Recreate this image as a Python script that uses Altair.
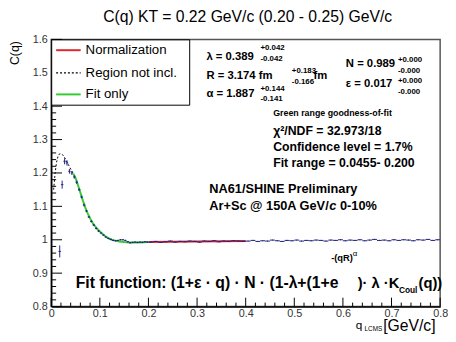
import altair as alt
import pandas as pd

FONT = "Liberation Sans"

# ---------------- data ----------------
q_low = [0.0175, 0.0225, 0.0275, 0.0325, 0.0375, 0.0425, 0.0475, 0.0525, 0.0575, 0.0625,
         0.0675, 0.0725, 0.0775, 0.0825, 0.0875, 0.0925, 0.0975, 0.1025, 0.1075, 0.1125,
         0.1175, 0.1225, 0.1275, 0.1325, 0.1375, 0.1425, 0.1475, 0.1525, 0.1575, 0.1625,
         0.1675, 0.1725, 0.1775, 0.1825, 0.1875, 0.1925, 0.1975]
c_low = [0.965, 1.165, 1.235, 1.230, 1.205, 1.200, 1.188, 1.172, 1.150, 1.128,
         1.104, 1.086, 1.068, 1.055, 1.044, 1.034, 1.026, 1.020, 1.014, 1.008,
         1.004, 1.001, 0.998, 0.997, 0.998, 1.000, 1.000, 0.998, 0.994, 0.991,
         0.992, 0.993, 0.992, 0.993, 0.992, 0.994, 0.993]
e_low = [0.018, 0.012, 0.009, 0.008, 0.007, 0.006, 0.005, 0.005, 0.004, 0.004,
         0.004, 0.003, 0.003, 0.003, 0.003, 0.003, 0.003, 0.002, 0.002, 0.002,
         0.002, 0.002, 0.002, 0.002, 0.002, 0.002, 0.002, 0.002, 0.002, 0.002,
         0.002, 0.002, 0.002, 0.002, 0.002, 0.002, 0.002]

q_high = [0.205, 0.215, 0.225, 0.235, 0.245, 0.255, 0.265, 0.275, 0.285, 0.295,
          0.305, 0.315, 0.325, 0.335, 0.345, 0.355, 0.365, 0.375, 0.385, 0.395,
          0.405, 0.415, 0.425, 0.435, 0.445, 0.455, 0.465, 0.475, 0.485, 0.495,
          0.505, 0.515, 0.525, 0.535, 0.545, 0.555, 0.565, 0.575, 0.585, 0.595,
          0.605, 0.615, 0.625, 0.635, 0.645, 0.655, 0.665, 0.675, 0.685, 0.695,
          0.705, 0.715, 0.725, 0.735, 0.745, 0.755, 0.765, 0.775, 0.785, 0.795]
c_high = [0.993, 0.995, 0.992, 0.994, 0.996, 0.993, 0.995, 0.994, 0.996, 0.995,
          0.993, 0.996, 0.995, 0.997, 0.994, 0.996, 0.995, 0.997, 0.996, 0.995,
          0.996, 0.998, 0.995, 0.997, 0.996, 0.999, 0.997, 0.995, 0.998, 0.997,
          0.999, 0.996, 0.998, 0.997, 0.999, 0.998, 0.996, 0.999, 0.998, 1.000,
          0.997, 0.999, 0.998, 1.000, 0.997, 0.999, 1.001, 0.998, 0.999, 0.997,
          1.000, 0.998, 1.000, 0.999, 0.997, 1.000, 0.999, 1.001, 0.998, 1.000]
e_high = [0.0015] * len(q_high)

q_excl = [0.005, 0.008, 0.011, 0.014, 0.017, 0.020, 0.023, 0.026, 0.030, 0.035, 0.040, 0.0455]
c_excl = [1.150, 1.200, 1.232, 1.250, 1.257, 1.258, 1.255, 1.250, 1.240, 1.226, 1.212, 1.198]

q_fit = [0.0455, 0.05, 0.055, 0.06, 0.065, 0.07, 0.075, 0.08, 0.085, 0.09, 0.095, 0.10,
         0.105, 0.11, 0.115, 0.12, 0.125, 0.13, 0.14, 0.15, 0.16, 0.18, 0.20]
c_fit = [1.198, 1.185, 1.164, 1.141, 1.118, 1.097, 1.079, 1.064, 1.051, 1.041, 1.032, 1.025,
         1.018, 1.012, 1.007, 1.003, 1.000, 0.998, 0.995, 0.993, 0.992, 0.992, 0.993]

q_norm = [0.20, 0.25, 0.30, 0.35, 0.40]
c_norm = [0.9930, 0.9938, 0.9946, 0.9953, 0.9960]

x_major = [0, 0.1, 0.2, 0.3, 0.4, 0.5, 0.6, 0.7, 0.8]
y_major = [0.8, 0.9, 1.0, 1.1, 1.2, 1.3, 1.4, 1.5, 1.6]
x_minor = [round(i * 0.02, 4) for i in range(41) if i % 5 != 0]
y_minor = [round(0.8 + i * 0.02, 4) for i in range(41) if i % 5 != 0]

legend_labels = ["Normalization", "Region not incl.", "Fit only"]

# ---------------- tables ----------------
hw = [0.0025] * len(q_low) + [0.005] * len(q_high)
pts = pd.DataFrame({"q": q_low + q_high, "C": c_low + c_high, "e": e_low + e_high, "hw": hw})
pts["lo"] = pts["C"] - pts["e"]
pts["hi"] = pts["C"] + pts["e"]
pts["q1"] = pts["q"] - pts["hw"]
pts["q2"] = pts["q"] + pts["hw"]

W, H = 396, 272
XS = alt.Scale(domain=[0, 0.8], nice=False, zero=False)
YS = alt.Scale(domain=[0.8, 1.6], nice=False, zero=False)
XA = alt.Axis(values=x_major, format="~g", title=None, grid=False, ticks=False, tickSize=0,
              labelPadding=1, labelFont=FONT, labelFontSize=11, labelColor="#333",
              domainColor="black", domainWidth=1.5, labelFlush=False, labelOverlap=False)
YA = alt.Axis(values=y_major, format="~g", title=None, grid=False, ticks=False, tickSize=0,
              labelPadding=4, labelFont=FONT, labelFontSize=11, labelColor="#333",
              domainColor="black", domainWidth=1.5, labelFlush=False, labelOverlap=False)

NAVY = "#23237e"
RED = "#e0262e"
GREEN = "#33cc33"

one = pd.DataFrame({"a": [0]})


def txt(s, x, y, size, bold=False, align="left", color="black", angle=0, italic=False):
    kw = dict(text=s, align=align, baseline="middle", fontSize=size, font=FONT,
              fontWeight="bold" if bold else "normal", color=color,
              fontStyle="italic" if italic else "normal")
    if angle:
        kw["angle"] = angle
    return alt.Chart(one).mark_text(**kw).encode(x=alt.value(x), y=alt.value(y))


layers = []

# inward ticks
ymaj = pd.DataFrame({"v": y_major})
ymin = pd.DataFrame({"v": y_minor})
xmaj = pd.DataFrame({"v": x_major})
xmin = pd.DataFrame({"v": x_minor})
layers.append(alt.Chart(ymaj).mark_rule(color="black", strokeWidth=1).encode(
    y=alt.Y("v:Q", scale=YS, axis=YA), x=alt.value(0), x2=alt.value(11)))
layers.append(alt.Chart(ymin).mark_rule(color="black", strokeWidth=1).encode(
    y=alt.Y("v:Q", scale=YS, axis=YA), x=alt.value(0), x2=alt.value(5)))
layers.append(alt.Chart(xmaj).mark_rule(color="black", strokeWidth=1).encode(
    x=alt.X("v:Q", scale=XS, axis=XA), y=alt.value(H), y2=alt.value(H - 9)))
layers.append(alt.Chart(xmin).mark_rule(color="black", strokeWidth=1).encode(
    x=alt.X("v:Q", scale=XS, axis=XA), y=alt.value(H), y2=alt.value(H - 4)))

# curves
layers.append(alt.Chart(pd.DataFrame({"q": q_norm, "C": c_norm})).mark_line(
    color=RED, strokeWidth=2).encode(
    x=alt.X("q:Q", scale=XS, axis=XA), y=alt.Y("C:Q", scale=YS, axis=YA)))
layers.append(alt.Chart(pd.DataFrame({"q": q_fit, "C": c_fit})).mark_line(
    color=GREEN, strokeWidth=2).encode(
    x=alt.X("q:Q", scale=XS, axis=XA), y=alt.Y("C:Q", scale=YS, axis=YA)))
layers.append(alt.Chart(pd.DataFrame({"q": q_excl, "C": c_excl})).mark_line(
    color="black", strokeWidth=1, strokeDash=[2, 2]).encode(
    x=alt.X("q:Q", scale=XS, axis=XA), y=alt.Y("C:Q", scale=YS, axis=YA)))

# data points
layers.append(alt.Chart(pts).mark_rule(color=NAVY, strokeWidth=1).encode(
    x=alt.X("q:Q", scale=XS, axis=XA), y=alt.Y("lo:Q", scale=YS, axis=YA), y2="hi:Q"))
layers.append(alt.Chart(pts).mark_rule(color=NAVY, strokeWidth=1).encode(
    x=alt.X("q1:Q", scale=XS, axis=XA), x2="q2:Q", y=alt.Y("C:Q", scale=YS, axis=YA)))

# legend box
layers.append(alt.Chart(one).mark_rect(fill="white", stroke="black", strokeWidth=1).encode(
    x=alt.value(0.5), x2=alt.value(141), y=alt.value(0.5), y2=alt.value(67)))
leg_y = [11, 34, 56]
layers.append(alt.Chart(one).mark_rule(color=RED, strokeWidth=2).encode(
    x=alt.value(5), x2=alt.value(30), y=alt.value(leg_y[0])))
layers.append(alt.Chart(one).mark_rule(color="black", strokeWidth=1.2, strokeDash=[2, 2]).encode(
    x=alt.value(5), x2=alt.value(30), y=alt.value(leg_y[1])))
layers.append(alt.Chart(one).mark_rule(color=GREEN, strokeWidth=2).encode(
    x=alt.value(5), x2=alt.value(30), y=alt.value(leg_y[2])))
for lab, yy in zip(legend_labels, leg_y):
    layers.append(txt(lab, 35, yy, 13.5))

# stats text
layers += [
    txt("λ = 0.389", 158, 18, 11.5, True),
    txt("+0.042", 213, 9, 8, True), txt("-0.042", 213, 20, 8, True),
    txt("R = 3.174 fm", 158, 37, 11.5, True),
    txt("+0.183", 245, 32, 8, True), txt("-0.166", 245, 43, 8, True),
    txt("fm", 267, 37, 11.5, True),
    txt("α = 1.887", 158, 56, 11.5, True),
    txt("+0.144", 213, 51, 8, True), txt("-0.141", 213, 61, 8, True),
    txt("N = 0.989", 300, 25, 11.5, True),
    txt("+0.000", 353, 21, 8, True), txt("-0.000", 353, 32, 8, True),
    txt("ε = 0.017", 300, 45, 11.5, True),
    txt("+0.000", 353, 42, 8, True), txt("-0.000", 353, 54, 8, True),
    txt("Green range goodness-of-fit", 226, 75, 9, True),
    txt("χ²/NDF = 32.973/18", 226, 93, 12.5, True),
    txt("Confidence level = 1.7%", 226, 110, 12.5, True),
    txt("Fit range = 0.0455- 0.200", 226, 126, 12.5, True),
    txt("NA61/SHINE Preliminary", 161, 152, 13, True),
    txt("Ar+Sc @ 150A GeV/", 161, 170, 13, True),
    txt("c", 283, 170, 13, True, italic=True),
    txt("0-10%", 294, 170, 13, True),
]

# fit function
layers += [
    txt("Fit function: (1+ε · q) · N · (1-λ+(1+e", 25, 248, 16, True),
    txt("-(qR)", 285, 223, 9.5, True),
    txt("α", 307, 219, 8),
    txt(")·  λ  ·K", 312, 248, 15, True),
    txt("Coul", 354, 255, 8.5, True),
    txt("(q))", 374, 248, 15, True),
]

# titles
layers += [
    txt("C(q) KT = 0.22 GeV/c (0.20 - 0.25) GeV/c", 200, -23, 16, align="center"),
    txt("C(q)", -37, 14, 12.5, align="center", angle=270),
    txt("q", 310, 291, 12),
    txt("LCMS", 319, 295, 6.5),
    txt("[GeV/c]", 338, 292, 16),
]

chart = alt.layer(*layers).properties(
    width=W, height=H,
    autosize=alt.AutoSizeParams(type="none"),
    padding={"left": 44, "top": 29, "right": 8, "bottom": 25},
).configure_view(stroke="#555", strokeWidth=1.5)

chart.save("out.html", embed_options={"renderer": "svg", "actions": False})
